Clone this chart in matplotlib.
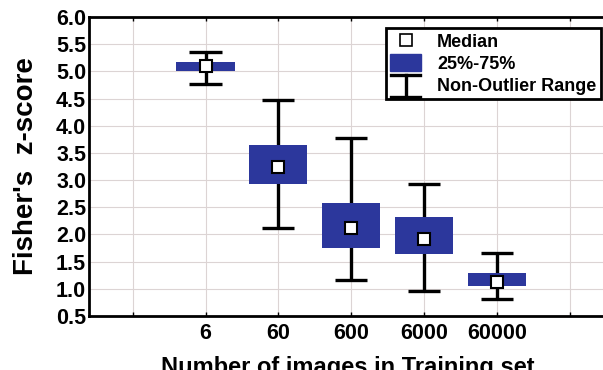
import matplotlib
matplotlib.use("Agg")
import matplotlib.pyplot as plt
from matplotlib.lines import Line2D
from matplotlib.patches import Patch
from matplotlib.legend_handler import HandlerBase

categories = ["6", "60", "600", "6000", "60000"]
whisker_low = [4.76, 2.11, 1.16, 0.96, 0.81]
whisker_high = [5.35, 4.47, 3.78, 2.93, 1.65]
q1 = [5.00, 2.92, 1.76, 1.64, 1.05]
q3 = [5.17, 3.64, 2.58, 2.33, 1.30]
median = [5.10, 3.24, 2.11, 1.91, 1.13]

plt.rcParams['font.family'] = ['Liberation Sans', 'DejaVu Sans']
plt.rcParams['font.weight'] = 'bold'

BLUE = '#2C379C'

fig = plt.figure(figsize=(6.03, 3.70), dpi=100)
ax = fig.add_axes([89/603, 54/370, 517/603, 299/370])

x = list(range(1, len(categories) + 1))
ax.vlines(x, whisker_low, whisker_high, color='black', lw=2.4, zorder=3)
ax.hlines(whisker_low, [v - 0.22 for v in x], [v + 0.22 for v in x], color='black', lw=2.4, zorder=3)
ax.hlines(whisker_high, [v - 0.22 for v in x], [v + 0.22 for v in x], color='black', lw=2.4, zorder=3)
heights = [b - a for a, b in zip(q1, q3)]
ax.bar(x, heights, bottom=q1, width=0.8, color=BLUE, zorder=4)
ax.plot(x, median, ls='none', marker='s', ms=8.5, mfc='white', mec='black', mew=1.5, zorder=5)

ax.set_xlim(-0.6, 6.5)
ax.set_ylim(0.5, 6.0)
ax.set_xticks(range(0, 7))
ax.set_xticklabels([''] + categories + [''])
ax.set_yticks([0.5 + 0.5 * i for i in range(12)])
ax.set_yticklabels([f"{0.5 + 0.5 * i:.1f}" for i in range(12)])
ax.tick_params(axis='x', direction='in', length=3, width=1, top=True, labelsize=15.5, pad=5)
ax.tick_params(axis='y', length=0, labelsize=15.5, pad=2)
for lab in ax.get_xticklabels() + ax.get_yticklabels():
    lab.set_fontweight('bold')
ax.grid(True, color='#dcd4d4', lw=0.8, zorder=0)
ax.set_axisbelow(True)
for s in ax.spines.values():
    s.set_linewidth(2)

ax.set_xlabel("Number of images in Training set", fontsize=17, fontweight='bold', labelpad=9)
ax.set_ylabel("Fisher's  z-score", fontsize=20, fontweight='bold', labelpad=2)
ax.yaxis.set_label_coords(-0.097, 0.5)


class RangeHandler(HandlerBase):
    def create_artists(self, legend, orig_handle, xdescent, ydescent, width, height, fontsize, trans):
        cx = width / 2 - xdescent
        y0 = -ydescent - 3
        y1 = height - ydescent + 1
        l1 = Line2D([cx - width * 0.48, cx + width * 0.48], [y0, y0], color='black', lw=2.4, transform=trans)
        l2 = Line2D([cx - width * 0.48, cx + width * 0.48], [y1, y1], color='black', lw=2.4, transform=trans)
        l3 = Line2D([cx, cx], [y0, y1], color='black', lw=2.4, transform=trans)
        return [l1, l2, l3]


h_med = Line2D([], [], ls='none', marker='s', ms=8.5, mfc='white', mec='black', mew=1.2)
h_box = Patch(facecolor=BLUE, edgecolor=BLUE)
h_rng = object()
leg = ax.legend([h_med, h_box, h_rng], ["Median", "25%-75%", "Non-Outlier Range"],
                handler_map={object: RangeHandler()},
                loc='upper right', bbox_to_anchor=(601/603, 1 - 28/370), bbox_transform=fig.transFigure,
                prop={'weight': 'bold', 'size': 13}, frameon=True, fancybox=False,
                edgecolor='black', framealpha=1, borderpad=0.25, labelspacing=0.2,
                handlelength=1.7, handleheight=1.0, handletextpad=0.9, borderaxespad=0)
leg.get_frame().set_linewidth(2)

fig.savefig("out.png", dpi=100)
